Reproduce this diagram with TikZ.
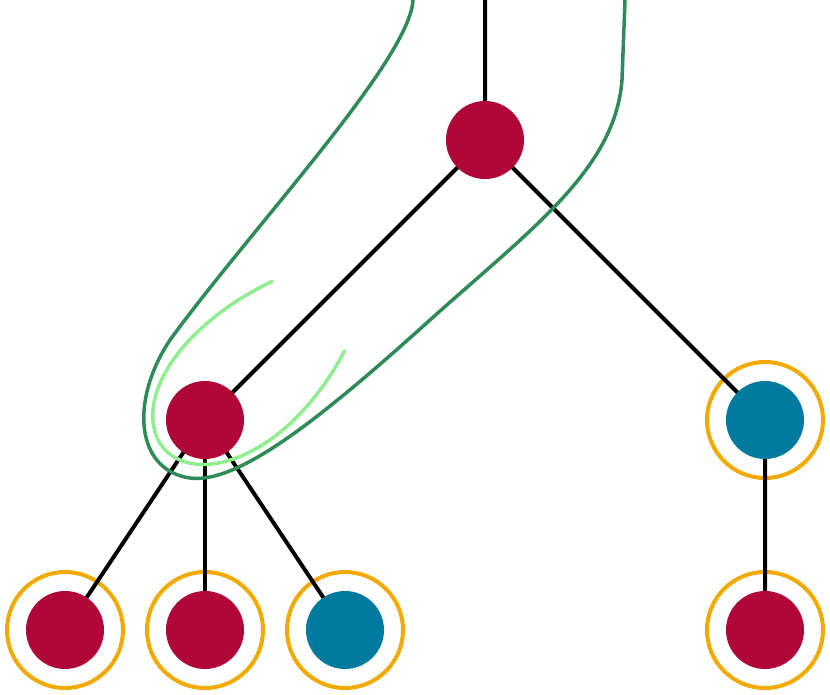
\documentclass[tikz,border=0pt]{standalone}
\begin{document}
\begin{tikzpicture}[x=1pt,y=-1pt,
  red/.style={circle,fill=crim,minimum size=78pt,inner sep=0pt},
  blue/.style={circle,fill=tealc,minimum size=78pt,inner sep=0pt},
  ring/.style={draw=orng,line width=4pt,fill=none},
  edge/.style={line width=4pt,black}]
\definecolor{crim}{HTML}{B00638}
\definecolor{tealc}{HTML}{007A9E}
\definecolor{orng}{HTML}{F2A900}
\definecolor{dg}{HTML}{2E8B57}
\definecolor{lg}{HTML}{90EE90}
\useasboundingbox (0,0) rectangle (830,695);
\coordinate (top) at (485,0);
\draw[ring] (765,420) circle (58);
\draw[ring] (65,630) circle (58);
\draw[ring] (205,630) circle (58);
\draw[ring] (345,630) circle (58);
\draw[ring] (765,630) circle (58);
\draw[edge] (top) -- (485,140) -- (205,420);
\draw[edge] (485,140) -- (765,420) -- (765,630);
\draw[edge] (205,420) -- (65,630);
\draw[edge] (205,420) -- (205,630);
\draw[edge] (205,420) -- (345,630);
\node[red] (r) at (485,140) {};
\node[red] (a) at (205,420) {};
\node[blue] (b) at (765,420) {};
\node[red] (l1) at (65,630) {};
\node[red] (l2) at (205,630) {};
\node[blue] (l3) at (345,630) {};
\node[red] (l4) at (765,630) {};
\draw[dg,line width=3.5pt] (413,0) .. controls (410,60) and (250,230) .. (170,340) .. controls (130,400) and (135,470) .. (190,478) .. controls (240,485) and (330,410) .. (430,320) .. controls (530,230) and (615,170) .. (622,80) -- (625,0);
\draw[lg,line width=3.5pt] (273,281) .. controls (190,320) and (135,390) .. (158,440) .. controls (185,490) and (285,465) .. (345,350);
\end{tikzpicture}
\end{document}
